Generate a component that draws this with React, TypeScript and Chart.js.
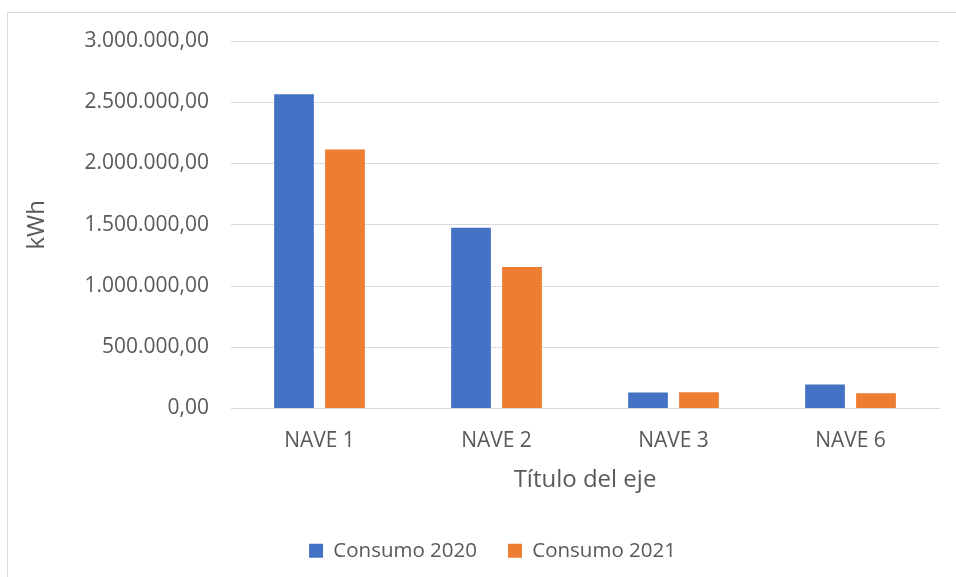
import React, { useEffect, useRef } from "react";
import { Chart, registerables } from "chart.js";

Chart.register(...registerables);

const categories = ["NAVE 1", "NAVE 2", "NAVE 3", "NAVE 6"];
const consumo2020 = [2565000, 1475000, 130000, 196000];
const consumo2021 = [2115000, 1155000, 133000, 125000];
const seriesNames = ["Consumo 2020", "Consumo 2021"];
const yTitle = "kWh";
const xTitle = "Título del eje";

const FONT = "'Open Sans', 'DejaVu Sans', sans-serif";
const TEXT = "#595959";
const GRID = "#D9D9D9";

function fmt(v: number): string {
  const fixed = Math.abs(v).toFixed(2);
  const [intPart, dec] = fixed.split(".");
  const withDots = intPart.replace(/\B(?=(\d{3})+(?!\d))/g, ".");
  return (v < 0 ? "-" : "") + withDots + "," + dec;
}

const legendShift = {
  id: "legendShift",
  afterLayout(chart: any) {
    const lg = chart.legend;
    if (lg) {
      lg.left += 23;
      lg.right += 23;
    }
  },
};

export default function App() {
  const ref = useRef<HTMLCanvasElement | null>(null);

  useEffect(() => {
    document.body.style.overflow = "hidden";
    const ctx = ref.current!;
    const chart = new Chart(ctx, {
      type: "bar",
      data: {
        labels: categories,
        datasets: [
          {
            label: seriesNames[0],
            data: consumo2020,
            backgroundColor: "#4472C4",
            categoryPercentage: 0.576,
            barPercentage: 0.78,
          },
          {
            label: seriesNames[1],
            data: consumo2021,
            backgroundColor: "#ED7D31",
            categoryPercentage: 0.576,
            barPercentage: 0.78,
          },
        ],
      },
      plugins: [legendShift],
      options: {
        animation: false,
        responsive: false,
        maintainAspectRatio: false,
        layout: { padding: { top: 41, right: 17, bottom: 6, left: 0 } },
        plugins: {
          legend: {
            position: "bottom",
            labels: {
              boxWidth: 14,
              boxHeight: 14,
              padding: 31,
              color: TEXT,
              font: { family: FONT, size: 20.5 },
            },
          },
          tooltip: { enabled: false },
        },
        scales: {
          x: {
            grid: { display: false, drawTicks: false },
            border: { display: true, color: GRID, width: 1 },
            ticks: { color: TEXT, font: { family: FONT, size: 21 }, padding: 20 },
            title: {
              display: true,
              text: xTitle,
              color: TEXT,
              font: { family: FONT, size: 24 },
              padding: { top: 10, bottom: 15 },
            },
            afterFit: (scale: any) => {
              scale.height = 101;
            },
          },
          y: {
            min: 0,
            max: 3000000,
            ticks: {
              stepSize: 500000,
              color: TEXT,
              font: { family: FONT, size: 21 },
              padding: 22,
              callback: (v: any) => fmt(Number(v)),
            },
            grid: { color: GRID, lineWidth: 1, drawTicks: false },
            border: { display: false },
            title: {
              display: true,
              text: yTitle,
              color: TEXT,
              font: { family: FONT, size: 24 },
              padding: { top: 23, bottom: 0 },
            },
            afterFit: (scale: any) => {
              scale.width = 231;
            },
          },
        },
      },
    });
    return () => chart.destroy();
  }, []);

  return (
    <div style={{ position: "fixed", left: 0, top: 0, width: 956, height: 577, overflow: "hidden", background: "#fff" }}>
      <div
        style={{
          position: "absolute",
          left: 7,
          top: 12,
          width: 1200,
          height: 800,
          borderLeft: "1px solid #D9D9D9",
          borderTop: "1px solid #D9D9D9",
        }}
      />
      <canvas ref={ref} width={956} height={577} style={{ position: "absolute", left: 0, top: 0, width: 956, height: 577 }} />
    </div>
  );
}
